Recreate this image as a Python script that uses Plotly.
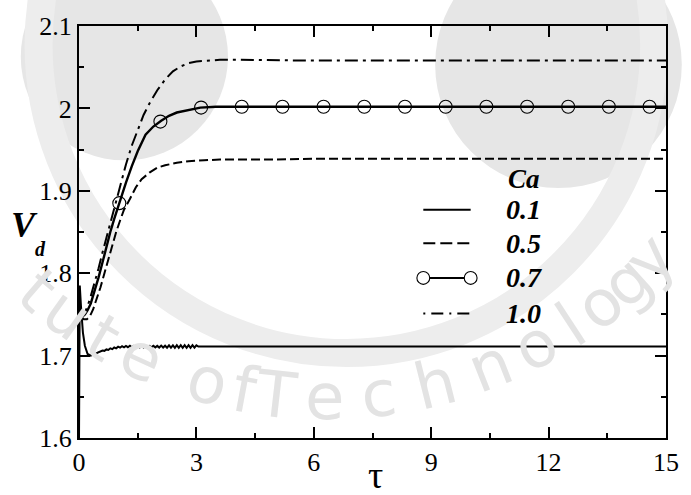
import math
import plotly.graph_objects as go

# ---------------------------------------------------------------------------
# Droplet volume V_d versus time tau for four capillary numbers
# ---------------------------------------------------------------------------
ca_labels = ["0.1", "0.5", "0.7", "1.0"]

tau_01 = [0.0, 0.008, 0.02, 0.05, 0.1, 0.15, 0.22, 0.3, 0.4, 0.5,
          0.55, 0.6, 0.65, 0.7, 0.75, 0.8, 0.85, 0.9, 0.95, 1.0,
          1.05, 1.1, 1.15, 1.2, 1.25, 1.3, 1.35, 1.4, 1.45, 1.5,
          1.55, 1.6, 1.65, 1.7, 1.75, 1.8, 1.85, 1.9, 1.95, 2.0,
          2.05, 2.1, 2.15, 2.2, 2.25, 2.3, 2.35, 2.4, 2.45, 2.5,
          2.55, 2.6, 2.65, 2.7, 2.75, 2.8, 2.85, 2.9, 2.95, 3.0,
          3.05, 15.0]
vd_01 = [1.600, 1.700, 1.785, 1.760, 1.728, 1.712, 1.702, 1.700, 1.702, 1.704,
         1.7048, 1.7062, 1.7058, 1.7075, 1.7068, 1.7088, 1.7078, 1.7098, 1.7088, 1.7108,
         1.7096, 1.7114, 1.7100, 1.7118, 1.7102, 1.7120, 1.7100, 1.7118, 1.7102, 1.7120,
         1.7100, 1.7118, 1.7100, 1.7120, 1.7102, 1.7118, 1.7100, 1.7120, 1.7100, 1.7118,
         1.7098, 1.7122, 1.7098, 1.7120, 1.7096, 1.7124, 1.7096, 1.7124, 1.7094, 1.7126,
         1.7094, 1.7126, 1.7094, 1.7126, 1.7094, 1.7126, 1.7094, 1.7126, 1.7096, 1.7124,
         1.711, 1.711]

tau_05 = [0.05, 0.12, 0.2, 0.28, 0.36, 0.45, 0.55, 0.65, 0.75, 0.85,
          0.95, 1.05, 1.15, 1.3, 1.45, 1.6, 1.8, 2.0, 2.2, 2.5,
          2.8, 3.2, 3.6, 4.2, 5.0, 6.0, 15.0]
vd_05 = [1.748, 1.744, 1.744, 1.748, 1.756, 1.768, 1.783, 1.800, 1.817, 1.834,
         1.850, 1.864, 1.877, 1.890, 1.904, 1.914, 1.922, 1.928, 1.931, 1.934,
         1.936, 1.937, 1.938, 1.938, 1.938, 1.939, 1.939]

tau_07 = [0.02, 0.08, 0.15, 0.22, 0.3, 0.4, 0.5, 0.6, 0.7, 0.8,
          0.9, 1.0, 1.1, 1.2, 1.35, 1.5, 1.7, 1.9, 2.1, 2.3,
          2.5, 2.8, 3.1, 3.5, 4.0, 5.0, 15.0]
vd_07 = [1.750, 1.747, 1.750, 1.755, 1.763, 1.778, 1.795, 1.813, 1.832, 1.850,
         1.866, 1.881, 1.895, 1.910, 1.930, 1.948, 1.968, 1.978, 1.985, 1.991,
         1.995, 1.998, 2.001, 2.002, 2.002, 2.002, 2.002]

# sampled points of the Ca = 0.7 run shown with circles
tau_07_marks = [1.03, 2.08, 3.12, 4.16, 5.2, 6.25, 7.29, 8.33, 9.37, 10.41,
                11.45, 12.5, 13.54, 14.58]
vd_07_marks = [1.885, 1.984, 2.001, 2.002, 2.002, 2.002, 2.002, 2.002, 2.002, 2.002,
               2.002, 2.002, 2.002, 2.002]

tau_10 = [0.02, 0.08, 0.15, 0.22, 0.3, 0.4, 0.5, 0.6, 0.7, 0.8,
          0.9, 1.0, 1.1, 1.2, 1.35, 1.5, 1.65, 1.8, 2.0, 2.2,
          2.4, 2.6, 2.8, 3.0, 3.3, 3.6, 4.0, 6.0, 15.0]
vd_10 = [1.752, 1.748, 1.752, 1.760, 1.772, 1.788, 1.806, 1.825, 1.843, 1.862,
         1.880, 1.898, 1.915, 1.932, 1.955, 1.974, 1.992, 2.006, 2.022, 2.035,
         2.045, 2.051, 2.055, 2.057, 2.058, 2.059, 2.059, 2.058, 2.058]

x_ticks = [0, 3, 6, 9, 12, 15]
y_ticks = [1.6, 1.7, 1.8, 1.9, 2.0, 2.1]
y_tick_text = ["1.6", "1.7", "1.8", "1.9", "2", "2.1"]

# ---------------------------------------------------------------------------
# page geometry (pixels) and helpers for paper coordinates
# ---------------------------------------------------------------------------
FIG_W, FIG_H = 691, 495
L, T, W, H = 79, 21, 595, 417


def fx(px):
    return (px - L) / W


def fy(py):
    return (T + H - py) / H


SERIF = "Liberation Serif"
DASH_05 = "9px,4px"
DASHDOT_10 = "13px,5px,3px,5px"

fig = go.Figure()

fig.add_trace(go.Scatter(x=tau_01, y=vd_01, mode="lines",
                         line=dict(color="black", width=2)))
fig.add_trace(go.Scatter(x=tau_05, y=vd_05, mode="lines",
                         line=dict(color="black", width=2, dash=DASH_05)))
fig.add_trace(go.Scatter(x=tau_07, y=vd_07, mode="lines",
                         line=dict(color="black", width=2.4)))
fig.add_trace(go.Scatter(x=tau_07_marks, y=vd_07_marks, mode="markers",
                         marker=dict(symbol="circle-open", size=13,
                                     color="black", line=dict(width=1.1))))
fig.add_trace(go.Scatter(x=tau_10, y=vd_10, mode="lines",
                         line=dict(color="black", width=2, dash=DASHDOT_10)))

shapes = []
annotations = []

# faint background emblem
EMB = "#e6e6e6"
for cx, cy, r in [(125, 52, 105), (565, 60, 125)]:
    shapes.append(dict(type="circle", xref="paper", yref="paper", layer="below",
                       x0=fx(cx - r), x1=fx(cx + r), y0=fy(cy + r), y1=fy(cy - r),
                       fillcolor=EMB, line=dict(width=0)))
rc, ccx, ccy = 312, 350, 40
shapes.append(dict(type="circle", xref="paper", yref="paper", layer="below",
                   x0=fx(ccx - rc), x1=fx(ccx + rc), y0=fy(ccy + rc), y1=fy(ccy - rc),
                   line=dict(color="#ededed", width=28)))

emblem_letters = list("tuteofTechnology")
emblem_angles = [-40.5, -35.5, -30, -24.5, -15.5, -10.5, -6.5, -0.3, 6.7, 14.1,
                 21.5, 28, 33.2, 37.8, 42.2, 46.5]
acx, acy, ar = 330, -55, 452
for ch, ang in zip(emblem_letters, emblem_angles):
    a = math.radians(ang)
    px = acx + ar * math.sin(a)
    py = acy + ar * math.cos(a)
    annotations.append(dict(x=fx(px), y=fy(py), xref="paper", yref="paper",
                            text=ch, showarrow=False, textangle=-ang,
                            xanchor="center", yanchor="middle",
                            font=dict(family="DejaVu Sans", size=64, color="#e3e3e3")))

# legend block
leg_x0, leg_x1 = 428, 476
leg_rows = [207, 241, 276, 312]
leg_styles = [dict(width=2), dict(width=2, dash="12px,5px"),
              dict(width=2), dict(width=2, dash="2px,6px,12px,6px")]
for ly, st in zip(leg_rows, leg_styles):
    shapes.append(dict(type="line", xref="paper", yref="paper",
                       x0=fx(leg_x0), x1=fx(leg_x1), y0=fy(ly), y1=fy(ly),
                       line=dict(color="black", **st)))
for mx in (leg_x0, leg_x1):
    r = 6.5
    shapes.append(dict(type="circle", xref="paper", yref="paper",
                       x0=fx(mx - r), x1=fx(mx + r), y0=fy(leg_rows[2] + r),
                       y1=fy(leg_rows[2] - r), fillcolor="white",
                       line=dict(color="black", width=1.1)))

annotations.append(dict(x=fx(512), y=fy(176), xref="paper", yref="paper",
                        text="<b><i>Ca</i></b>", showarrow=False,
                        xanchor="left", yanchor="middle",
                        font=dict(family=SERIF, size=27, color="black")))
for ly, lab in zip(leg_rows, ca_labels):
    annotations.append(dict(x=fx(510), y=fy(ly), xref="paper", yref="paper",
                            text="<b><i>" + lab + "</i></b>", showarrow=False,
                            xanchor="left", yanchor="middle",
                            font=dict(family=SERIF, size=28, color="black")))

# axis titles
annotations.append(dict(x=fx(24), y=fy(222), xref="paper", yref="paper",
                        text="<b><i>V</i></b>", showarrow=False,
                        xanchor="center", yanchor="middle",
                        font=dict(family=SERIF, size=36, color="black")))
annotations.append(dict(x=fx(40), y=fy(247), xref="paper", yref="paper",
                        text="<b><i>d</i></b>", showarrow=False,
                        xanchor="center", yanchor="middle",
                        font=dict(family=SERIF, size=20, color="black")))
annotations.append(dict(x=fx(380), y=fy(475), xref="paper", yref="paper",
                        text="τ", showarrow=False,
                        xanchor="center", yanchor="middle",
                        font=dict(family=SERIF, size=38, color="black")))

axis_common = dict(showgrid=False, zeroline=False, showline=True,
                   linecolor="black", linewidth=2, mirror="allticks",
                   ticks="inside", ticklen=11, tickwidth=1.5, tickcolor="black",
                   tickfont=dict(family=SERIF, size=26, color="black"))

fig.update_layout(
    width=FIG_W, height=FIG_H,
    margin=dict(l=L, r=FIG_W - L - W, t=T, b=FIG_H - T - H),
    paper_bgcolor="white", plot_bgcolor="rgba(0,0,0,0)",
    showlegend=False,
    shapes=shapes, annotations=annotations,
    xaxis=dict(range=[0, 15], tickmode="array", tickvals=x_ticks,
               minor=dict(dtick=1.5, tick0=0, ticks="inside", ticklen=5,
                          tickwidth=1.5, tickcolor="black"),
               **axis_common),
    yaxis=dict(range=[1.6, 2.1], tickmode="array", tickvals=y_ticks,
               ticktext=y_tick_text,
               minor=dict(dtick=0.05, tick0=1.6, ticks="inside", ticklen=5,
                          tickwidth=1.5, tickcolor="black"),
               **axis_common),
)

fig.write_html("out.html")
